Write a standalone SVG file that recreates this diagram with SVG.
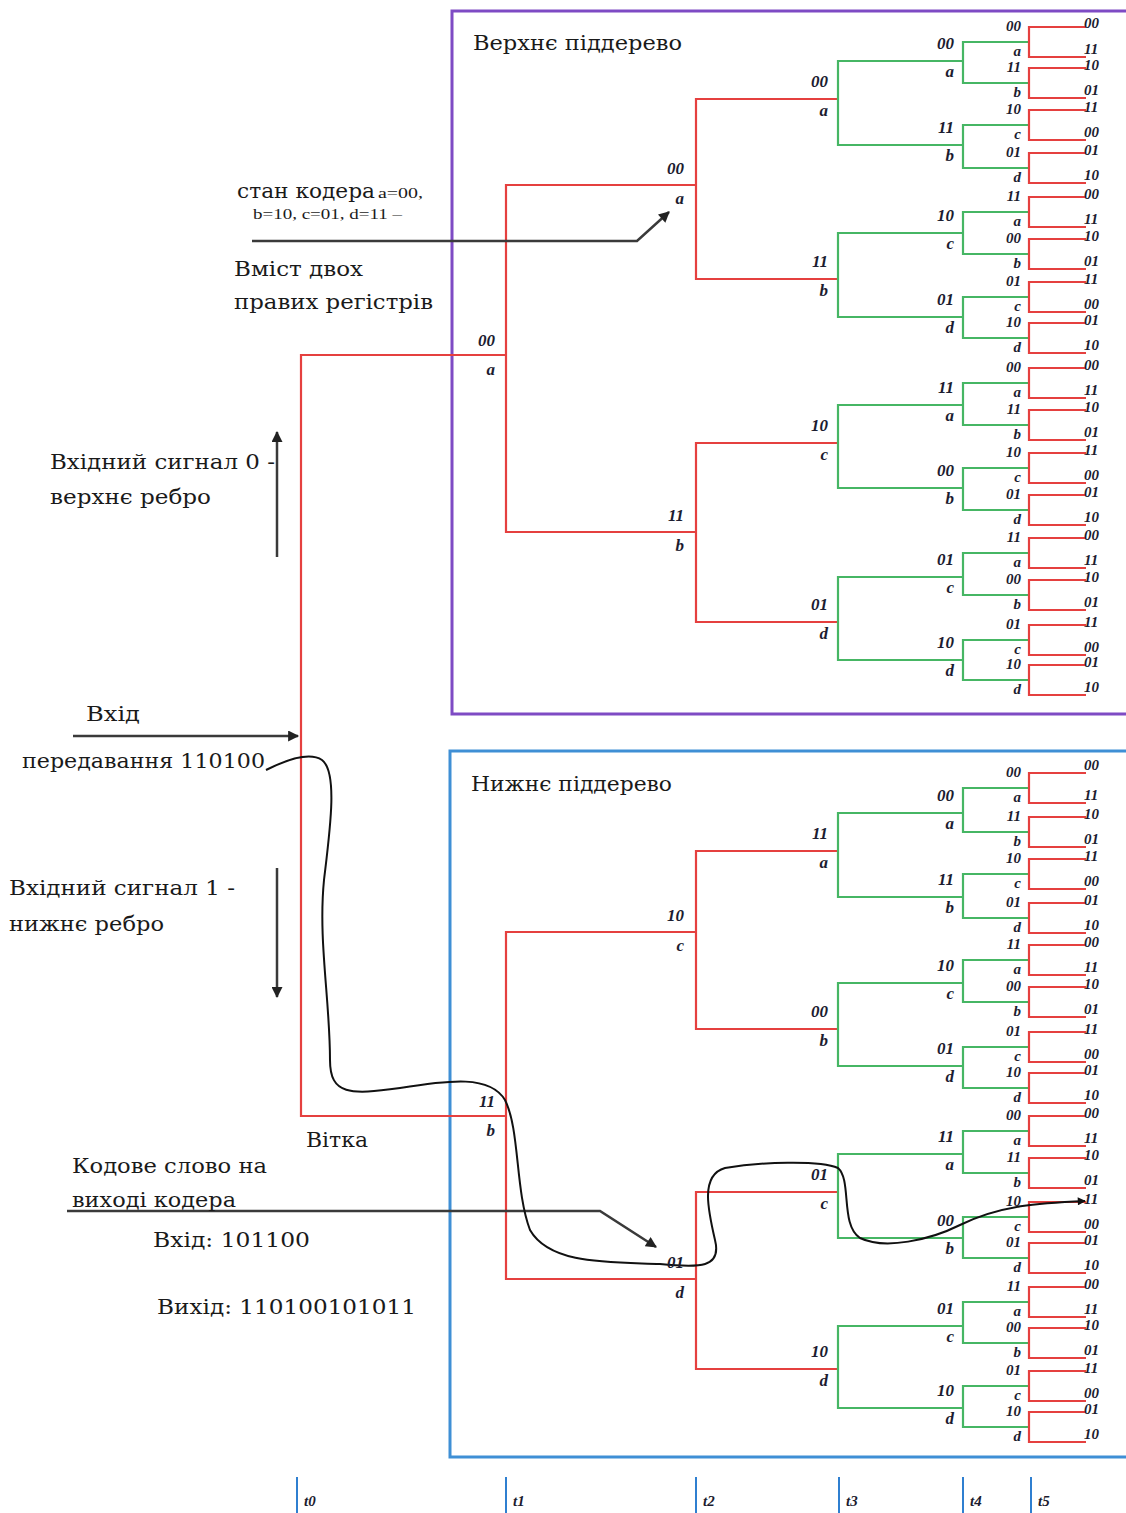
<svg xmlns="http://www.w3.org/2000/svg" width="1126" height="1513" viewBox="0 0 1126 1513">
<defs>
<style>
.b{font-family:"Liberation Serif",serif;font-style:italic;font-weight:bold;font-size:17px;fill:#1c1c30;text-anchor:end}
.b5{font-family:"Liberation Serif",serif;font-style:italic;font-weight:bold;font-size:15px;fill:#1c1c30;text-anchor:end}
.lf{font-family:"Liberation Serif",serif;font-style:italic;font-weight:bold;font-size:15px;fill:#1c1c30}
.t{font-family:"DejaVu Serif",serif;font-size:20px;fill:#1a1a1a}
.s{font-family:"Liberation Serif",serif;font-size:15px;fill:#1a1a1a}
.tk{font-family:"Liberation Serif",serif;font-style:italic;font-weight:bold;font-size:15px;fill:#1c1c30}
.red{fill:none;stroke:#e5403f;stroke-width:2.2}
.grn{fill:none;stroke:#46b664;stroke-width:2.2}
.arr{fill:none;stroke:#3a3a3a;stroke-width:2.5}
.cur{fill:none;stroke:#111;stroke-width:2}
</style>
<marker id="ah" viewBox="0 0 10 10" refX="9" refY="5" markerUnits="userSpaceOnUse" markerWidth="14" markerHeight="11" orient="auto"><path d="M0,0 L10,5 L0,10 z" fill="#222"/></marker>
<marker id="ah2" viewBox="0 0 10 10" refX="9" refY="5" markerUnits="userSpaceOnUse" markerWidth="11" markerHeight="8" orient="auto"><path d="M0,0 L10,5 L0,10 z" fill="#111"/></marker>
</defs>
<rect width="1126" height="1513" fill="#fff"/>
<g id="boxes">
<path d="M1130 11 H452 V714 H1130" fill="none" stroke="#7e4bc4" stroke-width="3"/>
<path d="M1130 751 H450 V1457 H1130" fill="none" stroke="#3f8fd5" stroke-width="3"/>
</g>
<g id="connectors">
<path class="red" d="M506 355 H301 V1116 H506 M696 185 H506 V532 H696 M696 932 H506 V1279 H696 M838 99 H696 V279 H838 M838 443 H696 V622 H838 M838 851 H696 V1029 H838 M838 1192 H696 V1369 H838"/>
<path class="grn" d="M963 61 H838 V145 H963 M963 233 H838 V317 H963 M963 405 H838 V488 H963 M963 577 H838 V660 H963 M963 813 H838 V897 H963 M963 983 H838 V1066 H963 M963 1154 H838 V1238 H963 M963 1326 H838 V1408 H963"/>
<path class="grn" d="M1029 42 H963 V83 H1029 M1029 125 H963 V168 H1029 M1029 212 H963 V254 H1029 M1029 297 H963 V338 H1029 M1029 383 H963 V425 H1029 M1029 468 H963 V510 H1029 M1029 553 H963 V595 H1029 M1029 640 H963 V680 H1029 M1029 788 H963 V832 H1029 M1029 874 H963 V918 H1029 M1029 960 H963 V1002 H1029 M1029 1047 H963 V1088 H1029 M1029 1131 H963 V1173 H1029 M1029 1217 H963 V1258 H1029 M1029 1302 H963 V1343 H1029 M1029 1386 H963 V1427 H1029"/>
<path class="red" d="M1086 27 H1029 V57 H1086 M1086 68 H1029 V98 H1086 M1086 110 H1029 V140 H1086 M1086 153 H1029 V183 H1086 M1086 197 H1029 V227 H1086 M1086 239 H1029 V269 H1086 M1086 282 H1029 V312 H1086 M1086 323 H1029 V353 H1086 M1086 368 H1029 V398 H1086 M1086 410 H1029 V440 H1086 M1086 453 H1029 V483 H1086 M1086 495 H1029 V525 H1086 M1086 538 H1029 V568 H1086 M1086 580 H1029 V610 H1086 M1086 625 H1029 V655 H1086 M1086 665 H1029 V695 H1086"/>
<path class="red" d="M1086 773 H1029 V803 H1086 M1086 817 H1029 V847 H1086 M1086 859 H1029 V889 H1086 M1086 903 H1029 V933 H1086 M1086 945 H1029 V975 H1086 M1086 987 H1029 V1017 H1086 M1086 1032 H1029 V1062 H1086 M1086 1073 H1029 V1103 H1086 M1086 1116 H1029 V1146 H1086 M1086 1158 H1029 V1188 H1086 M1086 1202 H1029 V1232 H1086 M1086 1243 H1029 V1273 H1086 M1086 1287 H1029 V1317 H1086 M1086 1328 H1029 V1358 H1086 M1086 1371 H1029 V1401 H1086 M1086 1412 H1029 V1442 H1086"/>
<path class="arr" d="M252 241 H637 L669 212" marker-end="url(#ah)"/>
<path class="arr" d="M277 557 V432" marker-end="url(#ah)"/>
<path class="arr" d="M73 736 H298" marker-end="url(#ah)"/>
<path class="arr" d="M277 868 V997" marker-end="url(#ah)"/>
<path class="arr" d="M67 1211 H600 L656 1247" marker-end="url(#ah)"/>
<path class="cur" d="M266 770 C290 758,310 752,322 760 C338 772,330 830,324 880 C318 940,330 1000,330 1060 C330 1095,350 1095,400 1088 C450 1080,490 1075,505 1100 C520 1130,515 1190,530 1230 C550 1265,610 1262,660 1264 C700 1268,722 1268,715 1240 C708 1210,700 1175,725 1168 C760 1162,820 1160,838 1168 C852 1180,840 1225,860 1238 C885 1250,930 1240,960 1225 C1000 1205,1040 1203,1085 1201" marker-end="url(#ah2)"/>
</g>
<g id="axis" stroke="#2f7fd0" stroke-width="2">
<path d="M297 1477 V1513 M506 1477 V1513 M696 1477 V1513 M839 1477 V1513 M963 1477 V1513 M1031 1477 V1513"/>
</g>
<g id="tlabels">
<text class="tk" x="304" y="1506">t0</text><text class="tk" x="513" y="1506">t1</text><text class="tk" x="703" y="1506">t2</text><text class="tk" x="846" y="1506">t3</text><text class="tk" x="970" y="1506">t4</text><text class="tk" x="1038" y="1506">t5</text>
</g>
<g id="texts">
<text class="t" x="473" y="50" textLength="209" lengthAdjust="spacingAndGlyphs">Верхнє піддерево</text>
<text class="t" x="471" y="791" textLength="201" lengthAdjust="spacingAndGlyphs">Нижнє піддерево</text>
<text class="t" x="237" y="198" textLength="138" lengthAdjust="spacingAndGlyphs">стан кодера</text>
<text class="s" x="378" y="198" textLength="45" lengthAdjust="spacingAndGlyphs">a=00,</text>
<text class="s" x="253" y="219" textLength="149" lengthAdjust="spacingAndGlyphs">b=10, c=01, d=11 –</text>
<text class="t" x="234" y="276" textLength="129" lengthAdjust="spacingAndGlyphs">Вміст двох</text>
<text class="t" x="234" y="309" textLength="199" lengthAdjust="spacingAndGlyphs">правих регістрів</text>
<text class="t" x="50" y="469" textLength="225" lengthAdjust="spacingAndGlyphs">Вхідний сигнал 0 -</text>
<text class="t" x="50" y="504" textLength="161" lengthAdjust="spacingAndGlyphs">верхнє ребро</text>
<text class="t" x="86" y="721" textLength="54" lengthAdjust="spacingAndGlyphs">Вхід</text>
<text class="t" x="22" y="768" textLength="243" lengthAdjust="spacingAndGlyphs">передавання 110100</text>
<text class="t" x="9" y="895" textLength="226" lengthAdjust="spacingAndGlyphs">Вхідний сигнал 1 -</text>
<text class="t" x="9" y="931" textLength="155" lengthAdjust="spacingAndGlyphs">нижнє ребро</text>
<text class="t" x="306" y="1147" textLength="62" lengthAdjust="spacingAndGlyphs">Вітка</text>
<text class="t" x="72" y="1173" textLength="195" lengthAdjust="spacingAndGlyphs">Кодове слово на</text>
<text class="t" x="72" y="1207" textLength="164" lengthAdjust="spacingAndGlyphs">виході кодера</text>
<text class="t" x="153" y="1247" textLength="157" lengthAdjust="spacingAndGlyphs">Вхід: 101100</text>
<text class="t" x="157" y="1314" textLength="259" lengthAdjust="spacingAndGlyphs">Вихід: 110100101011</text>
</g>
<g id="n1a"><text class="b" x="495" y="346">00</text><text class="b" x="495" y="375">a</text></g>
<g id="n1b"><text class="b" x="495" y="1107">11</text><text class="b" x="495" y="1136">b</text></g>
<g id="n2a"><text class="b" x="684" y="174">00</text><text class="b" x="684" y="204">a</text></g>
<g id="n2b"><text class="b" x="684" y="521">11</text><text class="b" x="684" y="551">b</text></g>
<g id="n2c"><text class="b" x="684" y="921">10</text><text class="b" x="684" y="951">c</text></g>
<g id="n2d"><text class="b" x="684" y="1268">01</text><text class="b" x="684" y="1298">d</text></g>
<g id="n3-99"><text class="b" x="828" y="87">00</text><text class="b" x="828" y="116">a</text></g>
<g id="n3-279"><text class="b" x="828" y="267">11</text><text class="b" x="828" y="296">b</text></g>
<g id="n3-443"><text class="b" x="828" y="431">10</text><text class="b" x="828" y="460">c</text></g>
<g id="n3-622"><text class="b" x="828" y="610">01</text><text class="b" x="828" y="639">d</text></g>
<g id="n3-851"><text class="b" x="828" y="839">11</text><text class="b" x="828" y="868">a</text></g>
<g id="n3-1029"><text class="b" x="828" y="1017">00</text><text class="b" x="828" y="1046">b</text></g>
<g id="n3-1192"><text class="b" x="828" y="1180">01</text><text class="b" x="828" y="1209">c</text></g>
<g id="n3-1369"><text class="b" x="828" y="1357">10</text><text class="b" x="828" y="1386">d</text></g>
<g id="n4-61"><text class="b" x="954" y="49">00</text><text class="b" x="954" y="77">a</text></g>
<g id="n4-145"><text class="b" x="954" y="133">11</text><text class="b" x="954" y="161">b</text></g>
<g id="n4-233"><text class="b" x="954" y="221">10</text><text class="b" x="954" y="249">c</text></g>
<g id="n4-317"><text class="b" x="954" y="305">01</text><text class="b" x="954" y="333">d</text></g>
<g id="n4-405"><text class="b" x="954" y="393">11</text><text class="b" x="954" y="421">a</text></g>
<g id="n4-488"><text class="b" x="954" y="476">00</text><text class="b" x="954" y="504">b</text></g>
<g id="n4-577"><text class="b" x="954" y="565">01</text><text class="b" x="954" y="593">c</text></g>
<g id="n4-660"><text class="b" x="954" y="648">10</text><text class="b" x="954" y="676">d</text></g>
<g id="n4-813"><text class="b" x="954" y="801">00</text><text class="b" x="954" y="829">a</text></g>
<g id="n4-897"><text class="b" x="954" y="885">11</text><text class="b" x="954" y="913">b</text></g>
<g id="n4-983"><text class="b" x="954" y="971">10</text><text class="b" x="954" y="999">c</text></g>
<g id="n4-1066"><text class="b" x="954" y="1054">01</text><text class="b" x="954" y="1082">d</text></g>
<g id="n4-1154"><text class="b" x="954" y="1142">11</text><text class="b" x="954" y="1170">a</text></g>
<g id="n4-1238"><text class="b" x="954" y="1226">00</text><text class="b" x="954" y="1254">b</text></g>
<g id="n4-1326"><text class="b" x="954" y="1314">01</text><text class="b" x="954" y="1342">c</text></g>
<g id="n4-1408"><text class="b" x="954" y="1396">10</text><text class="b" x="954" y="1424">d</text></g>
<g id="n5-42"><text class="b5" x="1021" y="31">00</text><text class="b5" x="1021" y="56">a</text></g>
<g id="n5-83"><text class="b5" x="1021" y="72">11</text><text class="b5" x="1021" y="97">b</text></g>
<g id="n5-125"><text class="b5" x="1021" y="114">10</text><text class="b5" x="1021" y="139">c</text></g>
<g id="n5-168"><text class="b5" x="1021" y="157">01</text><text class="b5" x="1021" y="182">d</text></g>
<g id="n5-212"><text class="b5" x="1021" y="201">11</text><text class="b5" x="1021" y="226">a</text></g>
<g id="n5-254"><text class="b5" x="1021" y="243">00</text><text class="b5" x="1021" y="268">b</text></g>
<g id="n5-297"><text class="b5" x="1021" y="286">01</text><text class="b5" x="1021" y="311">c</text></g>
<g id="n5-338"><text class="b5" x="1021" y="327">10</text><text class="b5" x="1021" y="352">d</text></g>
<g id="n5-383"><text class="b5" x="1021" y="372">00</text><text class="b5" x="1021" y="397">a</text></g>
<g id="n5-425"><text class="b5" x="1021" y="414">11</text><text class="b5" x="1021" y="439">b</text></g>
<g id="n5-468"><text class="b5" x="1021" y="457">10</text><text class="b5" x="1021" y="482">c</text></g>
<g id="n5-510"><text class="b5" x="1021" y="499">01</text><text class="b5" x="1021" y="524">d</text></g>
<g id="n5-553"><text class="b5" x="1021" y="542">11</text><text class="b5" x="1021" y="567">a</text></g>
<g id="n5-595"><text class="b5" x="1021" y="584">00</text><text class="b5" x="1021" y="609">b</text></g>
<g id="n5-640"><text class="b5" x="1021" y="629">01</text><text class="b5" x="1021" y="654">c</text></g>
<g id="n5-680"><text class="b5" x="1021" y="669">10</text><text class="b5" x="1021" y="694">d</text></g>
<g id="n5-788"><text class="b5" x="1021" y="777">00</text><text class="b5" x="1021" y="802">a</text></g>
<g id="n5-832"><text class="b5" x="1021" y="821">11</text><text class="b5" x="1021" y="846">b</text></g>
<g id="n5-874"><text class="b5" x="1021" y="863">10</text><text class="b5" x="1021" y="888">c</text></g>
<g id="n5-918"><text class="b5" x="1021" y="907">01</text><text class="b5" x="1021" y="932">d</text></g>
<g id="n5-960"><text class="b5" x="1021" y="949">11</text><text class="b5" x="1021" y="974">a</text></g>
<g id="n5-1002"><text class="b5" x="1021" y="991">00</text><text class="b5" x="1021" y="1016">b</text></g>
<g id="n5-1047"><text class="b5" x="1021" y="1036">01</text><text class="b5" x="1021" y="1061">c</text></g>
<g id="n5-1088"><text class="b5" x="1021" y="1077">10</text><text class="b5" x="1021" y="1102">d</text></g>
<g id="n5-1131"><text class="b5" x="1021" y="1120">00</text><text class="b5" x="1021" y="1145">a</text></g>
<g id="n5-1173"><text class="b5" x="1021" y="1162">11</text><text class="b5" x="1021" y="1187">b</text></g>
<g id="n5-1217"><text class="b5" x="1021" y="1206">10</text><text class="b5" x="1021" y="1231">c</text></g>
<g id="n5-1258"><text class="b5" x="1021" y="1247">01</text><text class="b5" x="1021" y="1272">d</text></g>
<g id="n5-1302"><text class="b5" x="1021" y="1291">11</text><text class="b5" x="1021" y="1316">a</text></g>
<g id="n5-1343"><text class="b5" x="1021" y="1332">00</text><text class="b5" x="1021" y="1357">b</text></g>
<g id="n5-1386"><text class="b5" x="1021" y="1375">01</text><text class="b5" x="1021" y="1400">c</text></g>
<g id="n5-1427"><text class="b5" x="1021" y="1416">10</text><text class="b5" x="1021" y="1441">d</text></g>
<g id="leaves-top">
<g id="lf1"><text class="lf" x="1084" y="28">00</text></g><g id="lf2"><text class="lf" x="1084" y="54">11</text></g>
<g id="lf3"><text class="lf" x="1084" y="70">10</text></g><g id="lf4"><text class="lf" x="1084" y="95">01</text></g>
<g id="lf5"><text class="lf" x="1084" y="112">11</text></g><g id="lf6"><text class="lf" x="1084" y="137">00</text></g>
<g id="lf7"><text class="lf" x="1084" y="155">01</text></g><g id="lf8"><text class="lf" x="1084" y="180">10</text></g>
<g id="lf9"><text class="lf" x="1084" y="199">00</text></g><g id="lf10"><text class="lf" x="1084" y="224">11</text></g>
<g id="lf11"><text class="lf" x="1084" y="241">10</text></g><g id="lf12"><text class="lf" x="1084" y="266">01</text></g>
<g id="lf13"><text class="lf" x="1084" y="284">11</text></g><g id="lf14"><text class="lf" x="1084" y="309">00</text></g>
<g id="lf15"><text class="lf" x="1084" y="325">01</text></g><g id="lf16"><text class="lf" x="1084" y="350">10</text></g>
<g id="lf17"><text class="lf" x="1084" y="370">00</text></g><g id="lf18"><text class="lf" x="1084" y="395">11</text></g>
<g id="lf19"><text class="lf" x="1084" y="412">10</text></g><g id="lf20"><text class="lf" x="1084" y="437">01</text></g>
<g id="lf21"><text class="lf" x="1084" y="455">11</text></g><g id="lf22"><text class="lf" x="1084" y="480">00</text></g>
<g id="lf23"><text class="lf" x="1084" y="497">01</text></g><g id="lf24"><text class="lf" x="1084" y="522">10</text></g>
<g id="lf25"><text class="lf" x="1084" y="540">00</text></g><g id="lf26"><text class="lf" x="1084" y="565">11</text></g>
<g id="lf27"><text class="lf" x="1084" y="582">10</text></g><g id="lf28"><text class="lf" x="1084" y="607">01</text></g>
<g id="lf29"><text class="lf" x="1084" y="627">11</text></g><g id="lf30"><text class="lf" x="1084" y="652">00</text></g>
<g id="lf31"><text class="lf" x="1084" y="667">01</text></g><g id="lf32"><text class="lf" x="1084" y="692">10</text></g>
</g>
<g id="leaves-bottom">
<g id="lf33"><text class="lf" x="1084" y="770">00</text></g><g id="lf34"><text class="lf" x="1084" y="800">11</text></g>
<g id="lf35"><text class="lf" x="1084" y="819">10</text></g><g id="lf36"><text class="lf" x="1084" y="844">01</text></g>
<g id="lf37"><text class="lf" x="1084" y="861">11</text></g><g id="lf38"><text class="lf" x="1084" y="886">00</text></g>
<g id="lf39"><text class="lf" x="1084" y="905">01</text></g><g id="lf40"><text class="lf" x="1084" y="930">10</text></g>
<g id="lf41"><text class="lf" x="1084" y="947">00</text></g><g id="lf42"><text class="lf" x="1084" y="972">11</text></g>
<g id="lf43"><text class="lf" x="1084" y="989">10</text></g><g id="lf44"><text class="lf" x="1084" y="1014">01</text></g>
<g id="lf45"><text class="lf" x="1084" y="1034">11</text></g><g id="lf46"><text class="lf" x="1084" y="1059">00</text></g>
<g id="lf47"><text class="lf" x="1084" y="1075">01</text></g><g id="lf48"><text class="lf" x="1084" y="1100">10</text></g>
<g id="lf49"><text class="lf" x="1084" y="1118">00</text></g><g id="lf50"><text class="lf" x="1084" y="1143">11</text></g>
<g id="lf51"><text class="lf" x="1084" y="1160">10</text></g><g id="lf52"><text class="lf" x="1084" y="1185">01</text></g>
<g id="lf53"><text class="lf" x="1084" y="1204">11</text></g><g id="lf54"><text class="lf" x="1084" y="1229">00</text></g>
<g id="lf55"><text class="lf" x="1084" y="1245">01</text></g><g id="lf56"><text class="lf" x="1084" y="1270">10</text></g>
<g id="lf57"><text class="lf" x="1084" y="1289">00</text></g><g id="lf58"><text class="lf" x="1084" y="1314">11</text></g>
<g id="lf59"><text class="lf" x="1084" y="1330">10</text></g><g id="lf60"><text class="lf" x="1084" y="1355">01</text></g>
<g id="lf61"><text class="lf" x="1084" y="1373">11</text></g><g id="lf62"><text class="lf" x="1084" y="1398">00</text></g>
<g id="lf63"><text class="lf" x="1084" y="1414">01</text></g><g id="lf64"><text class="lf" x="1084" y="1439">10</text></g>
</g>
</svg>
